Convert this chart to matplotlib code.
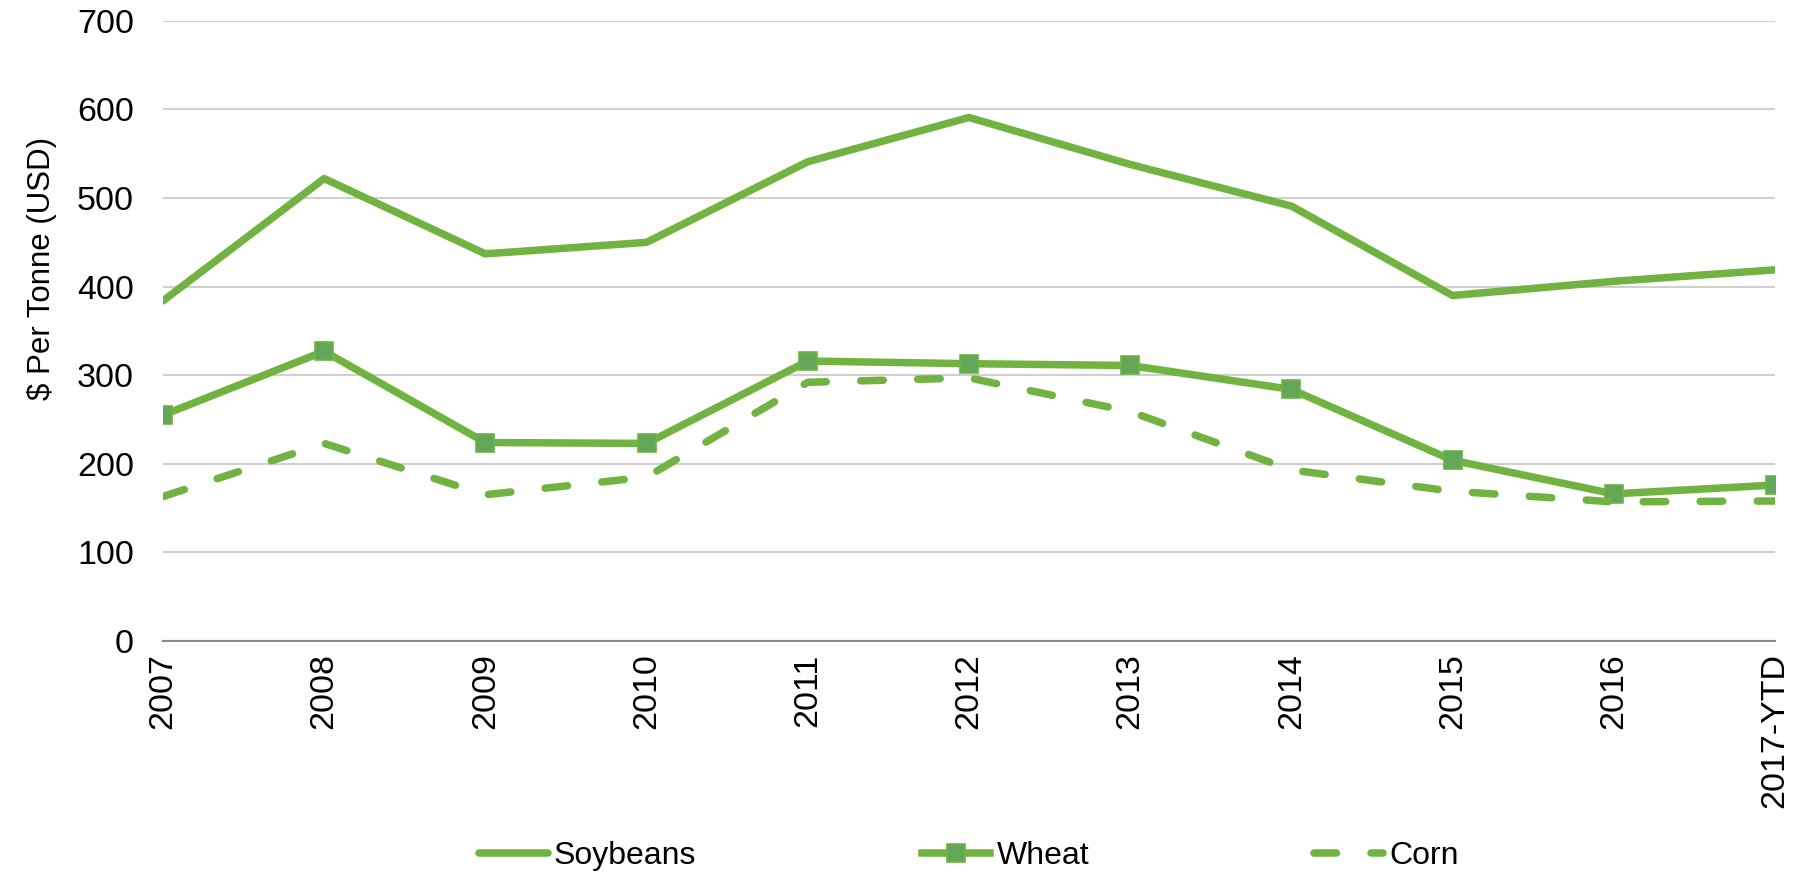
import numpy as np
import matplotlib
matplotlib.use('Agg')
import matplotlib.pyplot as plt

plt.rcParams['font.family'] = ['Liberation Sans', 'DejaVu Sans']

# Data ($ per tonne)
years = ['2007', '2008', '2009', '2010', '2011', '2012', '2013', '2014', '2015', '2016', '2017-YTD']
soybeans = [384, 522, 437, 450, 541, 591, 538, 491, 390, 406, 419]
wheat = [255, 327, 224, 223, 316, 313, 311, 284, 204, 166, 176]
corn = [163, 223, 165, 185, 292, 297, 259, 193, 169, 157, 158]

green = '#70B340'
marker_face = '#62A65A'
lw = 5.4

fig = plt.figure(figsize=(18.01, 8.72), dpi=100)
ax = fig.add_axes([0.0905, 0.265, 0.895, 0.711])

x = np.arange(len(years))
ax.plot(x, soybeans, color=green, lw=lw, solid_capstyle='round', label='Soybeans')
ax.plot(x, wheat, color=green, lw=lw, marker='s', markersize=13.5,
        markerfacecolor=marker_face, markeredgecolor=green, markeredgewidth=1.2, label='Wheat')
ax.plot(x, corn, color=green, lw=lw, dashes=(3.0, 4.6), dash_capstyle='round', label='Corn')

ax.set_xlim(0, len(years) - 1)
ax.set_ylim(0, 700)
ax.set_yticks(range(0, 701, 100))
ax.set_xticks(x)
ax.set_xticklabels(years, rotation=90, fontsize=24.5)
ax.tick_params(axis='y', labelsize=24.5, length=0, pad=21)
ax.tick_params(axis='x', length=0, pad=9)

ax.grid(axis='y', color='#D0D0D0', lw=1.5)
ax.set_axisbelow(True)
for side in ['left', 'right', 'top']:
    ax.spines[side].set_visible(False)
ax.spines['bottom'].set_color('#898989')
ax.spines['bottom'].set_linewidth(1.5)

# label sits a bit above the middle of the axis in the original
ax.set_ylabel('$ Per Tonne (USD)', fontsize=22.5, labelpad=14, y=0.6)

fig.legend(loc='center', bbox_to_anchor=(0.538, 0.018), ncol=3, frameon=False,
           fontsize=23, handlelength=2.15, handletextpad=0.2, columnspacing=7.05)

fig.savefig('out.png', dpi=100)
